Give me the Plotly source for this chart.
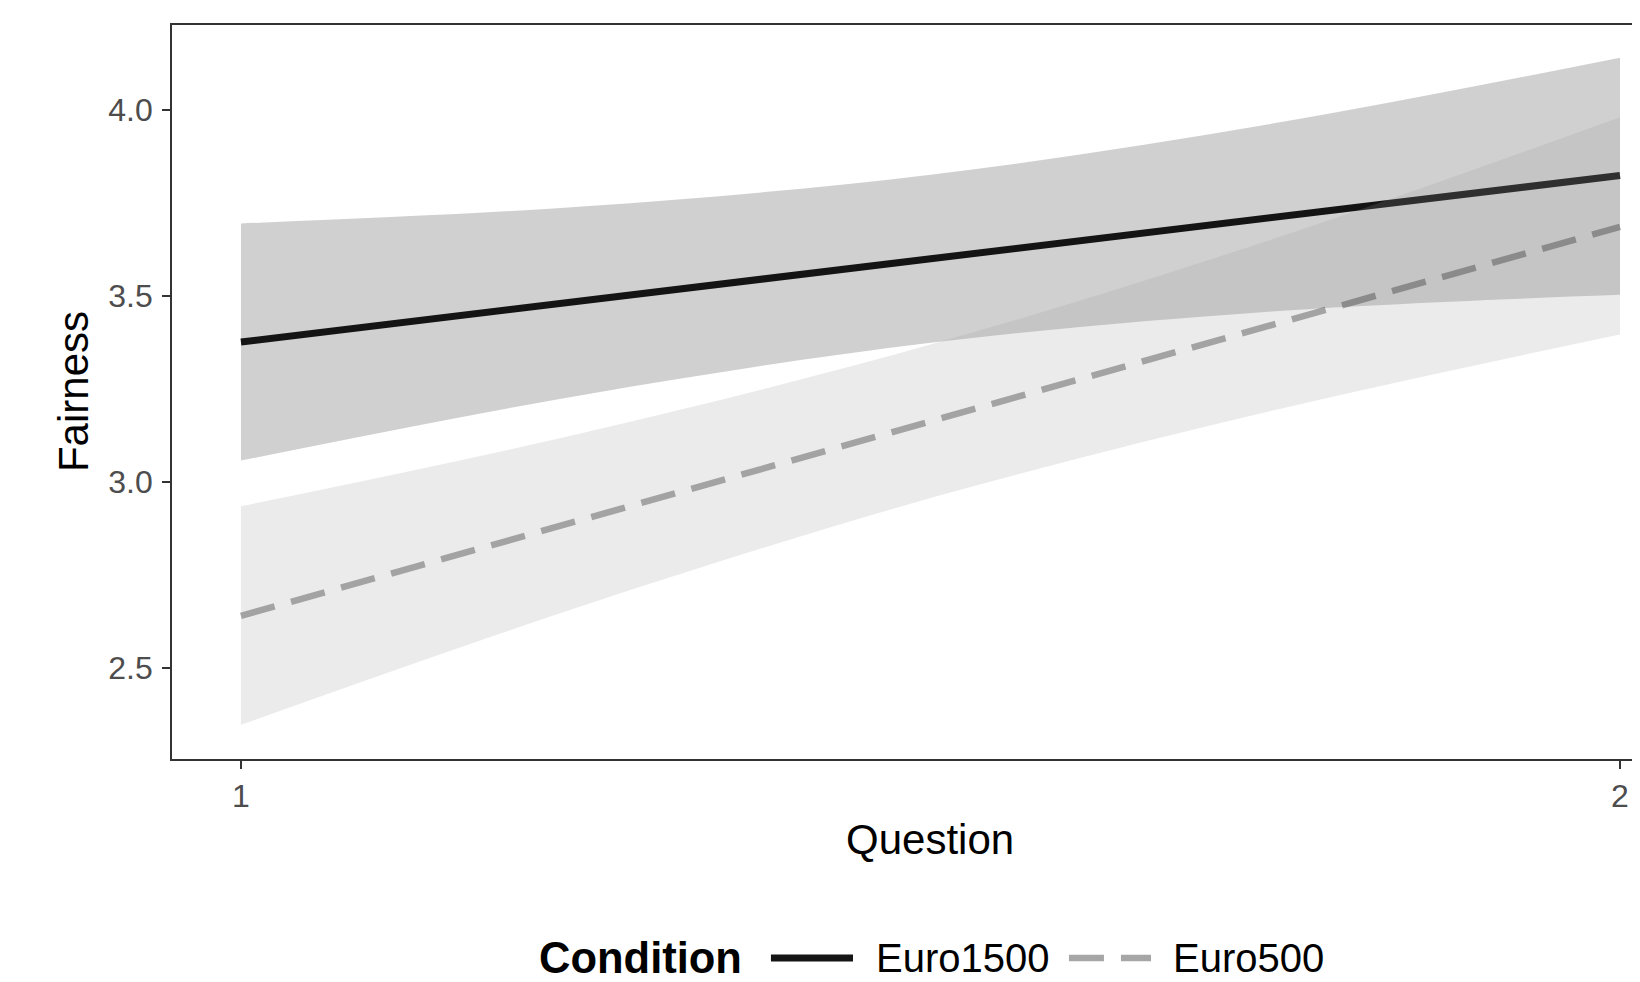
import plotly.graph_objects as go

# ---- data ----
question = [1, 1.25, 1.5, 1.75, 2]
conditions = ["Euro1500", "Euro500"]

euro1500_fit = [3.376, 3.488, 3.600, 3.712, 3.824]
euro1500_upper = [3.695, 3.741, 3.826, 3.965, 4.141]
euro1500_lower = [3.057, 3.235, 3.374, 3.459, 3.503]

euro500_fit = [2.639, 2.901, 3.163, 3.424, 3.686]
euro500_upper = [2.934, 3.133, 3.369, 3.655, 3.981]
euro500_lower = [2.346, 2.669, 2.956, 3.193, 3.396]

y_ticks = [2.5, 3.0, 3.5, 4.0]
x_ticks = [1, 2]

line_colors = ["#151515", "#a6a6a6"]
line_dashes = ["solid", "35px,17px"]
line_widths = [7, 6.5]

fig = go.Figure()

# fitted lines (drawn first; ribbons are translucent on top, like ggplot)
fig.add_trace(go.Scatter(x=question, y=euro1500_fit, mode="lines", name=conditions[0],
                         line=dict(color=line_colors[0], width=line_widths[0], dash=line_dashes[0])))
fig.add_trace(go.Scatter(x=question, y=euro500_fit, mode="lines", name=conditions[1],
                         line=dict(color=line_colors[1], width=line_widths[1], dash=line_dashes[1])))

# confidence ribbons
fig.add_trace(go.Scatter(x=question, y=euro1500_lower, mode="lines", line=dict(width=0, shape="spline"),
                         showlegend=False, hoverinfo="skip"))
fig.add_trace(go.Scatter(x=question, y=euro1500_upper, mode="lines", line=dict(width=0, shape="spline"),
                         fill="tonexty", fillcolor="rgba(20,20,20,0.2)", showlegend=False, hoverinfo="skip"))
fig.add_trace(go.Scatter(x=question, y=euro500_lower, mode="lines", line=dict(width=0, shape="spline"),
                         showlegend=False, hoverinfo="skip"))
fig.add_trace(go.Scatter(x=question, y=euro500_upper, mode="lines", line=dict(width=0, shape="spline"),
                         fill="tonexty", fillcolor="rgba(156,156,156,0.2)", showlegend=False, hoverinfo="skip"))

font_family = "Liberation Sans, Arial, sans-serif"

# legend drawn below the panel (ggplot style: bold title, long keys)
leg_y = -0.2711
shapes = [
    dict(type="line", xref="paper", yref="paper", x0=0.4080, x1=0.4639, y0=leg_y, y1=leg_y,
         line=dict(color=line_colors[0], width=line_widths[0], dash=line_dashes[0])),
    dict(type="line", xref="paper", yref="paper", x0=0.6110, x1=0.6669, y0=leg_y, y1=leg_y,
         line=dict(color=line_colors[1], width=line_widths[1], dash=line_dashes[1])),
]

annotations = [
    dict(text="Question", xref="x", yref="paper", x=1.5, y=-0.109,
         xanchor="center", yanchor="middle", showarrow=False,
         font=dict(size=42, color="#000000")),
    dict(text="Fairness", xref="paper", yref="paper", x=-0.0674, y=0.5,
         xanchor="center", yanchor="middle", textangle=-90, showarrow=False,
         font=dict(size=42, color="#000000")),
    dict(text="<b>Condition</b>", xref="paper", yref="paper", x=0.2486, y=leg_y,
         xanchor="left", yanchor="middle", showarrow=False,
         font=dict(size=43.5, color="#000000")),
    dict(text=conditions[0], xref="paper", yref="paper", x=0.4782, y=leg_y,
         xanchor="left", yanchor="middle", showarrow=False,
         font=dict(size=40, color="#000000")),
    dict(text=conditions[1], xref="paper", yref="paper", x=0.6805, y=leg_y,
         xanchor="left", yanchor="middle", showarrow=False,
         font=dict(size=40, color="#000000")),
]

# page body has an 8px margin, so the figure is 8px smaller and offsets are reduced by 8
fig.update_layout(
    width=1632, height=974,
    margin=dict(l=164, r=0, t=17, b=223, autoexpand=False),
    paper_bgcolor="white", plot_bgcolor="white",
    font=dict(family=font_family, color="#000000"),
    showlegend=False,
    xaxis=dict(
        range=[0.95, 2.0145], tickvals=x_ticks, ticktext=[str(v) for v in x_ticks],
        showgrid=False, zeroline=False,
        showline=True, linecolor="#333333", linewidth=1.8, mirror=True,
        ticks="outside", ticklen=8, tickwidth=2, tickcolor="#333333",
        tickfont=dict(size=32, color="#4d4d4d"), ticklabelstandoff=0,
    ),
    yaxis=dict(
        range=[2.254, 4.229], tickvals=y_ticks, ticktext=[f"{v:.1f}" for v in y_ticks],
        showgrid=False, zeroline=False,
        showline=True, linecolor="#333333", linewidth=1.8, mirror=False,
        ticks="outside", ticklen=8, tickwidth=2, tickcolor="#333333",
        tickfont=dict(size=32, color="#4d4d4d"), ticklabelstandoff=3,
    ),
    shapes=shapes,
    annotations=annotations,
)

fig.write_html("out.html")
